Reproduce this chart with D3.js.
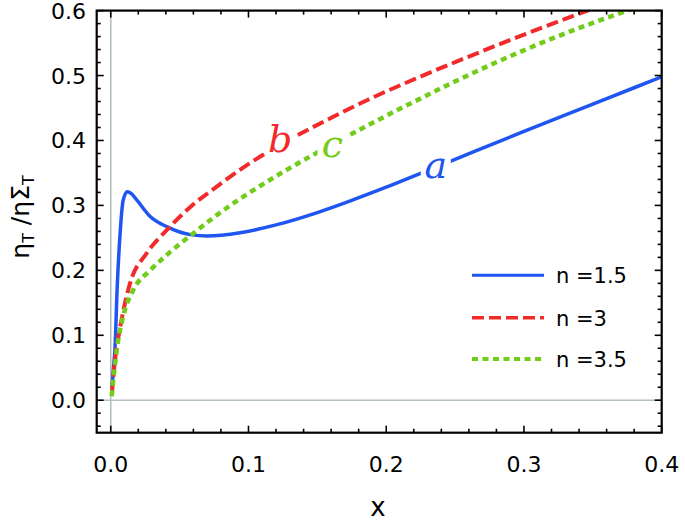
<!DOCTYPE html>
<html><head><meta charset="utf-8">
<script src="https://cdn.jsdelivr.net/npm/d3@7"></script>
<style>body{margin:0;background:#fff}svg{display:block}</style>
</head><body>
<svg id="c" width="685" height="522"></svg>
<script>
const xTicks = [0.0, 0.1, 0.2, 0.3, 0.4];
const yTicks = [0.0, 0.1, 0.2, 0.3, 0.4, 0.5, 0.6];
const seriesNames = ["n =1.5", "n =3", "n =3.5"];
const curveLabels = ["a", "b", "c"];

const blueX = [0.001,0.002,0.003,0.0048,0.0068,0.009,0.012,0.015,0.019,0.0286,0.041,0.058,0.07,0.094,0.12,0.15,0.174,0.2,0.25,0.3,0.35,0.4];
const blueY = [0.02,0.05,0.077,0.18,0.257,0.308,0.321,0.318,0.308,0.283,0.267,0.255,0.253,0.258,0.27,0.289,0.307,0.328,0.371,0.414,0.456,0.498];

const redX = [0.0008,0.003,0.007,0.014,0.026,0.042,0.058,0.077,0.094,0.101,0.133,0.162,0.186,0.22,0.254,0.3,0.346,0.36];
const redY = [0.01,0.06,0.114,0.18,0.226,0.265,0.298,0.329,0.355,0.365,0.405,0.437,0.462,0.494,0.524,0.563,0.6,0.611];

const greenX = [0.0007,0.0044,0.009,0.0164,0.0286,0.043,0.06,0.077,0.093,0.101,0.1255,0.16,0.2176,0.2816,0.33,0.375,0.39];
const greenY = [0.006,0.078,0.129,0.17,0.2,0.228,0.257,0.285,0.309,0.32,0.352,0.393,0.457,0.522,0.565,0.6,0.611];

const labelPos = [[0.236,0.36],[0.123,0.4],[0.161,0.393]];

const colors = ["#1f55f2", "#f22a2a", "#74cc1a"];
const dashes = [null, "12,5", "6,4.5"];
const widths = [3.5, 4, 4.5];

const svg = d3.select("#c");
const L = 96.7, R = 661.7, T = 10.6, B = 432.7;
const x = d3.scaleLinear().domain([-0.0102, 0.4]).range([L, R]);
const y = d3.scaleLinear().domain([-0.05, 0.6]).range([B, T]);

svg.append("defs").append("clipPath").attr("id","clip")
  .append("rect").attr("x",L).attr("y",T).attr("width",R-L).attr("height",B-T);

// zero lines
svg.append("line").attr("x1",x(0)).attr("x2",x(0)).attr("y1",T).attr("y2",B)
  .attr("stroke","#b4c0c0").attr("stroke-width",1.6);
svg.append("line").attr("x1",L).attr("x2",R).attr("y1",y(0)).attr("y2",y(0))
  .attr("stroke","#b4c0c0").attr("stroke-width",1.6);

const series = [
  blueX.map((v,i)=>[v,blueY[i]]),
  redX.map((v,i)=>[v,redY[i]]),
  greenX.map((v,i)=>[v,greenY[i]])
];
const line = d3.line().x(d=>x(d[0])).y(d=>y(d[1])).curve(d3.curveMonotoneX);
const g = svg.append("g").attr("clip-path","url(#clip)");
series.forEach((s,i)=>{
  const p = g.append("path").attr("d",line(s)).attr("fill","none")
    .attr("stroke",colors[i]).attr("stroke-width",widths[i]);
  if (dashes[i]) p.attr("stroke-dasharray",dashes[i]);
});

// curve labels with white boxes
curveLabels.forEach((t,i)=>{
  const cx = x(labelPos[i][0]), cy = y(labelPos[i][1]);
  svg.append("rect").attr("x",cx-15).attr("y",cy-17).attr("width",30).attr("height",34).attr("fill","#fff");
  svg.append("text").attr("x",cx).attr("y",cy+12)
    .attr("text-anchor","middle")
    .attr("font-family","'DejaVu Serif', 'Liberation Serif', serif").attr("font-style","italic")
    .attr("font-size",38).attr("fill",colors[i])
    .text(t);
});

// axes frame with inward ticks
const axG = svg.append("g");
const xMinor = d3.range(0, 0.4001, 0.02);
const yMinor = d3.range(-0.04, 0.6001, 0.02);
function isMajor(v){ return Math.abs(v*10 - Math.round(v*10)) < 1e-6; }
xMinor.forEach(v=>{
  const len = isMajor(v) ? 7 : 4;
  axG.append("line").attr("x1",x(v)).attr("x2",x(v)).attr("y1",B).attr("y2",B-len).attr("stroke","#000").attr("stroke-width",1.6);
  axG.append("line").attr("x1",x(v)).attr("x2",x(v)).attr("y1",T).attr("y2",T+len).attr("stroke","#000").attr("stroke-width",1.6);
});
yMinor.forEach(v=>{
  const len = isMajor(v) ? 7 : 4;
  axG.append("line").attr("y1",y(v)).attr("y2",y(v)).attr("x1",L).attr("x2",L+len).attr("stroke","#000").attr("stroke-width",1.6);
  axG.append("line").attr("y1",y(v)).attr("y2",y(v)).attr("x1",R).attr("x2",R-len).attr("stroke","#000").attr("stroke-width",1.6);
});
svg.append("rect").attr("x",L).attr("y",T).attr("width",R-L).attr("height",B-T)
  .attr("fill","none").attr("stroke","#000").attr("stroke-width",2.2);

const font = "'DejaVu Sans', sans-serif";
xTicks.forEach(v=>{
  svg.append("text").attr("x",x(v)).attr("y",472).attr("text-anchor","middle")
    .attr("font-family",font).attr("font-size",22).text(d3.format(".1f")(v));
});
yTicks.forEach(v=>{
  svg.append("text").attr("x",86).attr("y",y(v)+8).attr("text-anchor","end")
    .attr("font-family",font).attr("font-size",22).text(d3.format(".1f")(v));
});
svg.append("text").attr("x",378).attr("y",516).attr("text-anchor","middle")
  .attr("font-family",font).attr("font-size",26).text("x");

const yt = svg.append("text").attr("transform","translate(29,217) rotate(-90)")
  .attr("text-anchor","middle").attr("font-family",font).attr("font-size",25);
yt.append("tspan").text("η");
yt.append("tspan").attr("font-size",16).attr("dy",5).text("T");
yt.append("tspan").attr("dy",-5).text(" /η");
yt.append("tspan").text("Σ");
yt.append("tspan").attr("font-size",16).attr("dy",5).text("T");

// legend
const legY = [275.3, 317.7, 359];
seriesNames.forEach((n,i)=>{
  svg.append("line").attr("x1",472).attr("x2",544).attr("y1",legY[i]).attr("y2",legY[i])
    .attr("stroke",colors[i]).attr("stroke-width",widths[i]-0.5)
    .attr("stroke-dasharray",dashes[i]||null);
  svg.append("text").attr("x",556).attr("y",legY[i]+8).attr("font-family",font)
    .attr("font-size",21).text(n);
});
</script>
</body></html>
